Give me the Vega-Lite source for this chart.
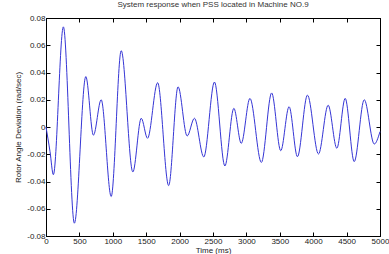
{
  "$schema": "https://vega.github.io/schema/vega-lite/v6.json",
  "autosize": "none",
  "width": 334,
  "height": 218,
  "padding": {"left": 46, "top": 18, "right": 9, "bottom": 18},
  "background": "white",
  "title": {"text": "System response when PSS located in Machine NO.9", "fontSize": 8, "font": "Liberation Sans", "fontWeight": "normal", "color": "#333", "offset": 5, "anchor": "middle"},
  "config": {
    "view": {"stroke": "black", "strokeWidth": 1},
    "axis": {"grid": false, "domainColor": "black", "tickColor": "black", "labelFont": "Liberation Sans", "labelFontSize": 8, "labelColor": "#222", "titleFont": "Liberation Sans", "titleFontSize": 8, "titleFontWeight": "normal", "titleColor": "#222", "tickSize": -4, "labelPadding": 4}
  },
  "data": {"values": [
    {"t": 0, "v": 0},
    {"t": 60, "v": -0.018},
    {"t": 110, "v": -0.035},
    {"t": 260, "v": 0.0735},
    {"t": 425, "v": -0.0706},
    {"t": 596, "v": 0.037},
    {"t": 710, "v": -0.006},
    {"t": 826, "v": 0.020},
    {"t": 976, "v": -0.051},
    {"t": 1126, "v": 0.056},
    {"t": 1300, "v": -0.033},
    {"t": 1426, "v": 0.0064},
    {"t": 1520, "v": -0.0083},
    {"t": 1671, "v": 0.0325},
    {"t": 1836, "v": -0.043},
    {"t": 1977, "v": 0.0295},
    {"t": 2113, "v": -0.0066},
    {"t": 2222, "v": 0.0064},
    {"t": 2362, "v": -0.022},
    {"t": 2522, "v": 0.033},
    {"t": 2678, "v": -0.0286},
    {"t": 2812, "v": 0.0137},
    {"t": 2923, "v": -0.012},
    {"t": 3053, "v": 0.021},
    {"t": 3224, "v": -0.026},
    {"t": 3378, "v": 0.025},
    {"t": 3514, "v": -0.0174},
    {"t": 3639, "v": 0.0149},
    {"t": 3764, "v": -0.0218},
    {"t": 3914, "v": 0.0234},
    {"t": 4079, "v": -0.0198},
    {"t": 4224, "v": 0.016},
    {"t": 4354, "v": -0.0156},
    {"t": 4479, "v": 0.021},
    {"t": 4614, "v": -0.0254},
    {"t": 4764, "v": 0.020},
    {"t": 4914, "v": -0.0125},
    {"t": 5000, "v": -0.0034}
  ]},
  "layer": [
    {
      "mark": {"type": "line", "interpolate": "monotone", "color": "#3535d5", "strokeWidth": 1},
      "encoding": {
        "x": {"field": "t", "type": "quantitative", "scale": {"domain": [0, 5000], "nice": false},
          "axis": {"orient": "bottom", "values": [0,500,1000,1500,2000,2500,3000,3500,4000,4500,5000], "format": "d", "title": "Time (ms)", "titlePadding": 1, "labelPadding": 5, "labelFlush": false}},
        "y": {"field": "v", "type": "quantitative", "scale": {"domain": [-0.08, 0.08], "nice": false, "zero": false},
          "axis": {"orient": "left", "values": [-0.08,-0.06,-0.04,-0.02,0,0.02,0.04,0.06,0.08], "labelExpr": "datum.value == 0 ? '0' : (datum.value < 0 ? '-' : '') + format(abs(datum.value), '.2f')", "title": "Rotor Angle Deviation (rad/sec)", "titlePadding": 4, "labelPadding": 5, "labelFlush": false}}
      }
    },
    {
      "mark": {"type": "line", "opacity": 0},
      "encoding": {
        "x": {"field": "t", "type": "quantitative", "axis": {"orient": "top", "values": [0,500,1000,1500,2000,2500,3000,3500,4000,4500,5000], "labels": false, "title": null}},
        "y": {"field": "v", "type": "quantitative", "axis": {"orient": "right", "values": [-0.08,-0.06,-0.04,-0.02,0,0.02,0.04,0.06,0.08], "labels": false, "title": null}}
      }
    }
  ],
  "resolve": {"axis": {"x": "independent", "y": "independent"}}
}
